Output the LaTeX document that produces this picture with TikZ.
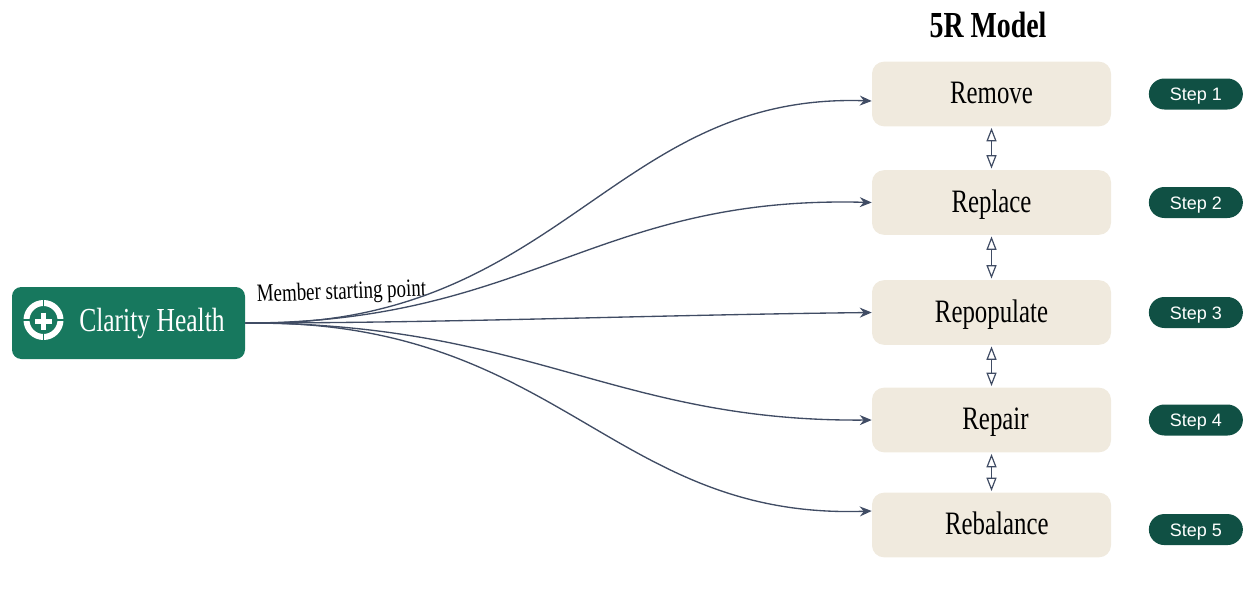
\documentclass[tikz,border=0pt]{standalone}
\usepackage{fontspec}
\usepackage{xcolor}
\usetikzlibrary{positioning,arrows.meta,calc}
\setmainfont[FakeStretch=0.76]{Liberation Serif}
\newfontfamily\pillfont{Liberation Sans}
\definecolor{claritygreen}{RGB}{23,120,94}
\definecolor{pillgreen}{RGB}{16,80,68}
\definecolor{boxcream}{RGB}{240,234,222}
\definecolor{linkslate}{RGB}{64,76,100}
\begin{document}
\begin{tikzpicture}[
      x=0.75pt, y=-0.75pt, >={Stealth[length=9pt,width=7.5pt,inset=3pt]},
      model/.style={rounded corners=9pt, fill=boxcream, align=center,
                    minimum width=179.25pt, minimum height=48.5pt,
                    inner sep=0pt, text height=18pt, text depth=3.2pt,
                    font=\fontsize{24.5}{26}\selectfont},
      pill/.style={rounded corners=11.6pt, fill=pillgreen, text=white,
                   minimum width=70.5pt, minimum height=23.25pt,
                   inner sep=0pt, text height=11pt, text depth=1.2pt,
                   font=\pillfont\fontsize{13.5}{15}\selectfont},
      arr/.style={->, draw=linkslate, line width=1pt},
      both/.style={{Triangle[open,length=10pt,width=7.5pt]}-{Triangle[open,length=10pt,width=7.5pt]},
                   draw=linkslate, line width=0.9pt}
    ]
    \useasboundingbox (0,0) rectangle (1256,604);
    \node[rounded corners=7pt, fill=claritygreen, minimum width=174.75pt,
          minimum height=54pt, inner sep=0pt] (clarity) at (128.5,323) {};
    \node[text=white, font=\fontsize{25.2}{27}\selectfont, anchor=base west, inner sep=0pt] (name) at (79,331) {Clarity Health};
    % logo mark
    \draw[white, line width=4.5pt] (43.5,320) circle (17);
    \draw[claritygreen, line width=1.2pt] (20,320) -- (32,320) (55,320) -- (67,320)
          (43.5,297) -- (43.5,309) (43.5,331) -- (43.5,343);
    \draw[white, line width=3.75pt] (35,321) -- (52,321) (43.5,312.5) -- (43.5,329.5);
    \node[rotate=2, font=\fontsize{18.7}{20}\selectfont] (start) at (341.5,293) {Member starting point};
    \node[font=\bfseries\fontsize{27.5}{29}\selectfont, anchor=base, inner sep=0pt] (title) at (988,37) {5R Model};
    \node[model] (remove) at (991.5,94) {Remove};
    \node[model] (replace) at (991.5,202.5) {Replace};
    \node[model] (repopulate) at (991.5,312.5) {Repopulate};
    \node[model] (repair) at (991.5,420) {\hspace*{6pt}Repair};
    \node[model] (rebalance) at (991.5,525) {\hspace*{8pt}Rebalance};
    \node[pill, right=28pt of remove] (s1) {Step 1};
    \node[pill, right=28pt of replace] (s2) {Step 2};
    \node[pill, right=28pt of repopulate] (s3) {Step 3};
    \node[pill, right=28pt of repair] (s4) {Step 4};
    \node[pill, right=28pt of rebalance, yshift=-3.4pt] (s5) {Step 5};
    % curves out of the start box
    \draw[arr] (clarity.east) .. controls (560,330) and (610,92) .. ([yshift=-5.25pt]remove.west);
    \draw[arr] (clarity.east) .. controls (530,323) and (595,195) .. (replace.west);
    \draw[arr] (clarity.east) .. controls (450,323) and (650,315) .. (repopulate.west);
    \draw[arr] (clarity.east) .. controls (530,323) and (615,422) .. (repair.west);
    \draw[arr] (clarity.east) .. controls (560,318) and (610,520) .. ([yshift=10.5pt]rebalance.west);
    % links between the steps
    \draw[both] ([yshift=-1pt]remove.south) -- ([yshift=1pt]replace.north);
    \draw[both] ([yshift=-1pt]replace.south) -- ([yshift=1pt]repopulate.north);
    \draw[both] ([yshift=-1pt]repopulate.south) -- ([yshift=1pt]repair.north);
    \draw[both] ([yshift=-1pt]repair.south) -- ([yshift=1pt]rebalance.north);
  \end{tikzpicture}
\end{document}
